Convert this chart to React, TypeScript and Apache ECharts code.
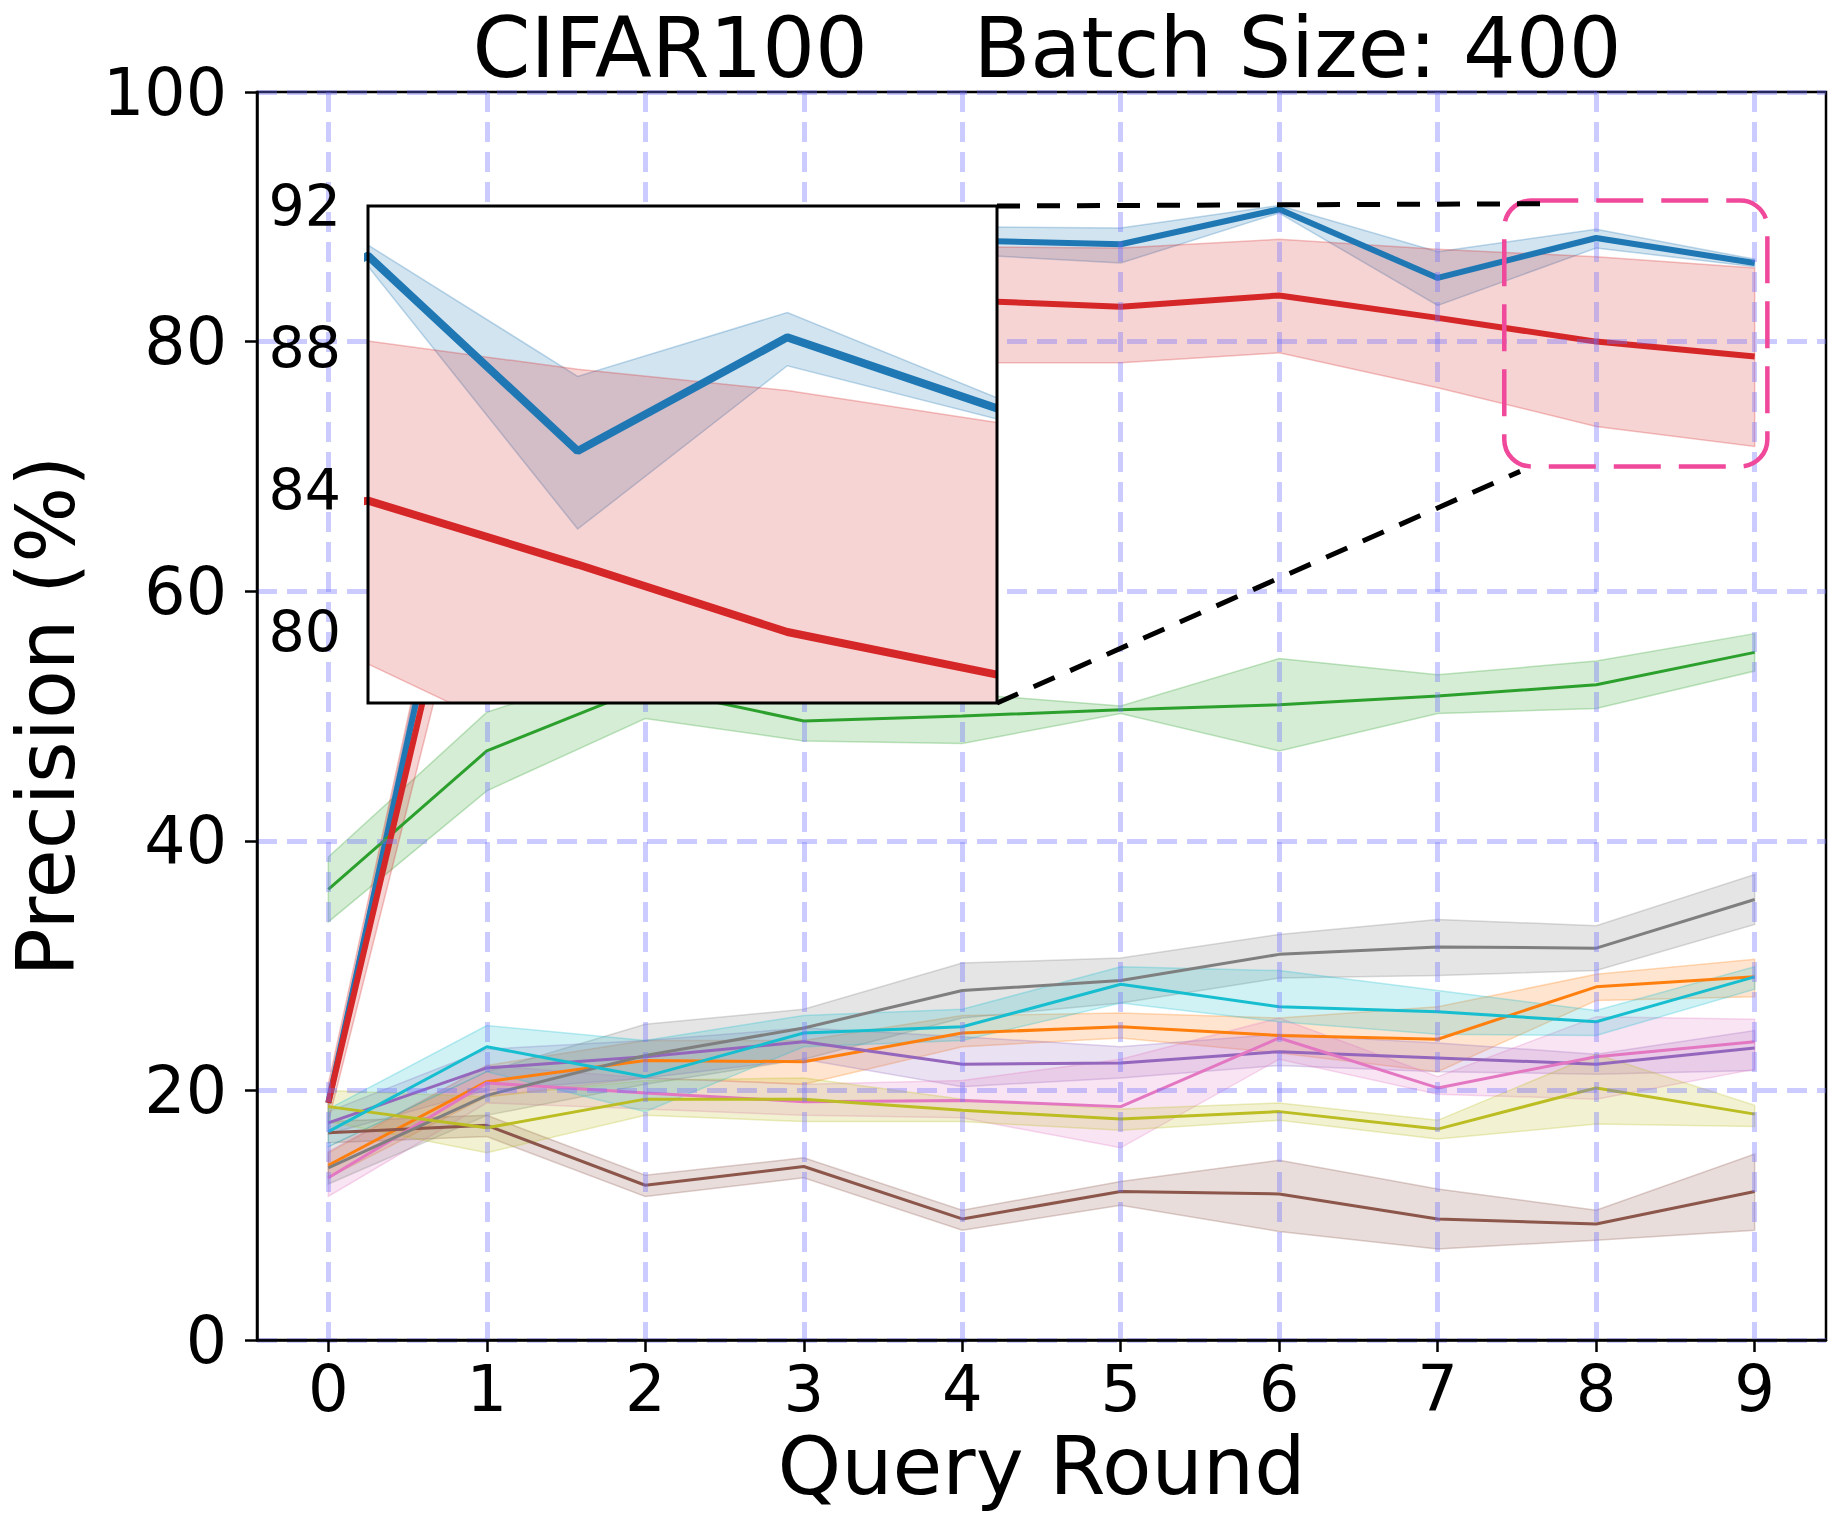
import React, { useEffect, useRef } from "react";
import * as echarts from "echarts";

// ---------- data ----------
const ROUNDS = [0, 1, 2, 3, 4, 5, 6, 7, 8, 9];
const X_TICKS = [0, 1, 2, 3, 4, 5, 6, 7, 8, 9];
const INSET_Y_TICKS = [80, 84, 88, 92];
const TITLE = "CIFAR100    Batch Size: 400";

const blueMean = [19.0, 77.0, 85.5, 87.5, 88.1, 87.8, 90.6, 85.1, 88.3, 86.3];
const blueLow = [18.5, 75.0, 84.0, 86.2, 87.0, 86.3, 90.3, 82.9, 87.5, 86.0];
const blueHigh = [19.5, 79.0, 87.0, 88.8, 89.2, 89.1, 90.9, 87.2, 89.0, 86.6];

const orangeMean = [14.0, 20.7, 22.4, 22.3, 24.6, 25.1, 24.4, 24.1, 28.3, 29.1];
const orangeLow = [13.0, 19.5, 21.0, 20.5, 23.5, 24.2, 23.0, 21.5, 27.2, 27.5];
const orangeHigh = [15.0, 22.0, 24.0, 24.0, 26.0, 26.2, 25.8, 26.7, 29.3, 30.5];

const greenMean = [36.1, 47.2, 52.3, 49.6, 50.0, 50.5, 50.9, 51.6, 52.5, 55.1];
const greenLow = [33.5, 44.0, 49.8, 48.0, 47.8, 50.2, 47.2, 50.2, 50.6, 53.6];
const greenHigh = [38.7, 50.3, 54.5, 51.5, 51.8, 50.8, 54.6, 53.3, 54.4, 56.6];

const redMean = [19.0, 73.0, 80.5, 82.5, 83.3, 82.8, 83.7, 81.9, 80.0, 78.8];
const redLow = [17.5, 68.0, 75.0, 78.0, 78.3, 78.3, 79.1, 76.3, 73.2, 71.6];
const redHigh = [20.5, 79.0, 85.0, 87.0, 87.6, 87.5, 88.2, 87.4, 86.8, 85.9];

const purpleMean = [17.4, 21.8, 22.7, 23.9, 22.1, 22.2, 23.1, 22.6, 22.1, 23.4];
const purpleLow = [16.5, 20.0, 21.0, 22.5, 20.3, 21.0, 22.0, 21.5, 21.3, 21.6];
const purpleHigh = [18.3, 23.3, 24.0, 25.0, 24.3, 23.5, 24.5, 23.8, 22.9, 24.8];

const brownMean = [16.6, 17.2, 12.4, 13.9, 9.7, 11.9, 11.7, 9.7, 9.3, 11.9];
const brownLow = [15.8, 16.3, 11.5, 13.0, 8.8, 10.8, 8.7, 7.3, 8.0, 8.8];
const brownHigh = [17.5, 18.0, 13.2, 14.6, 10.4, 12.7, 14.4, 12.1, 10.4, 14.9];

const pinkMean = [13.0, 20.6, 19.8, 19.1, 19.2, 18.7, 24.2, 20.2, 22.7, 23.9];
const pinkLow = [11.5, 19.0, 18.5, 18.0, 17.8, 15.4, 22.5, 19.7, 19.3, 21.7];
const pinkHigh = [15.1, 22.0, 21.0, 20.5, 20.8, 22.5, 25.8, 21.1, 25.9, 25.7];

const grayMean = [13.8, 19.6, 22.8, 25.0, 28.0, 28.8, 30.9, 31.5, 31.4, 35.3];
const grayLow = [12.5, 18.0, 20.5, 22.5, 25.8, 27.0, 29.0, 29.2, 29.6, 33.3];
const grayHigh = [15.5, 21.5, 25.3, 26.5, 30.2, 30.6, 32.5, 33.7, 33.2, 37.3];

const oliveMean = [18.7, 17.0, 19.3, 19.3, 18.4, 17.7, 18.3, 16.9, 20.2, 18.1];
const oliveLow = [17.5, 15.0, 18.0, 17.5, 17.5, 16.8, 17.6, 16.1, 17.3, 17.1];
const oliveHigh = [20.0, 19.5, 20.8, 21.0, 19.3, 18.5, 19.0, 17.6, 22.9, 18.8];

const cyanMean = [16.7, 23.5, 21.1, 24.6, 25.1, 28.5, 26.7, 26.3, 25.5, 29.1];
const cyanLow = [15.5, 21.5, 18.3, 23.5, 24.0, 27.0, 25.5, 24.5, 24.4, 28.1];
const cyanHigh = [18.5, 25.2, 24.0, 26.0, 26.5, 29.9, 29.6, 28.0, 26.4, 29.9];

// ---------- styling ----------
const FONT = "DejaVu Sans";
const GRID_COLOR = "rgba(110,110,255,0.36)";
const PINK = "#f0489a";

type Curve = { name: string; color: string; mean: number[]; low: number[]; high: number[]; width: number };

const CURVES: Curve[] = [
  { name: "blue", color: "#1f77b4", mean: blueMean, low: blueLow, high: blueHigh, width: 6 },
  { name: "orange", color: "#ff7f0e", mean: orangeMean, low: orangeLow, high: orangeHigh, width: 3 },
  { name: "green", color: "#2ca02c", mean: greenMean, low: greenLow, high: greenHigh, width: 3 },
  { name: "red", color: "#d62728", mean: redMean, low: redLow, high: redHigh, width: 6 },
  { name: "purple", color: "#9467bd", mean: purpleMean, low: purpleLow, high: purpleHigh, width: 3 },
  { name: "brown", color: "#8c564b", mean: brownMean, low: brownLow, high: brownHigh, width: 3 },
  { name: "pink", color: "#e377c2", mean: pinkMean, low: pinkLow, high: pinkHigh, width: 3 },
  { name: "gray", color: "#7f7f7f", mean: grayMean, low: grayLow, high: grayHigh, width: 3 },
  { name: "olive", color: "#bcbd22", mean: oliveMean, low: oliveLow, high: oliveHigh, width: 3 },
  { name: "cyan", color: "#17becf", mean: cyanMean, low: cyanLow, high: cyanHigh, width: 3 },
];

function rgba(hex: string, a: number) {
  const n = parseInt(hex.slice(1), 16);
  return `rgba(${(n >> 16) & 255},${(n >> 8) & 255},${n & 255},${a})`;
}

// shaded band between low and high, drawn through the axis scales (api.coord)
function bandSeries(c: Curve, axis: number, z: number) {
  return {
    type: "custom",
    name: `${c.name}-band-${axis}`,
    xAxisIndex: axis,
    yAxisIndex: axis,
    z,
    silent: true,
    clip: true,
    data: [[ROUNDS[0], c.low[0]]],
    renderItem: (_params: any, api: any) => {
      const upper = ROUNDS.map((x, i) => api.coord([x, c.high[i]]));
      const lower = ROUNDS.map((x, i) => api.coord([x, c.low[i]])).reverse();
      return {
        type: "polygon",
        shape: { points: upper.concat(lower) },
        style: { fill: rgba(c.color, 0.2), stroke: rgba(c.color, 0.28), lineWidth: 1.5 },
      };
    },
  };
}

function lineSeries(c: Curve, axis: number, width: number, z: number) {
  return {
    type: "line",
    name: `${c.name}-${axis}`,
    xAxisIndex: axis,
    yAxisIndex: axis,
    data: ROUNDS.map((x, i) => [x, c.mean[i]]),
    symbol: "none",
    lineStyle: { color: c.color, width },
    z,
    silent: true,
  };
}

export default function App() {
  const ref = useRef<HTMLDivElement>(null);

  useEffect(() => {
    if (!ref.current) return;
    const chart = echarts.init(ref.current, null, { renderer: "svg" });

    const series: any[] = [];
    CURVES.forEach((c) => series.push(bandSeries(c, 0, 2)));
    CURVES.forEach((c) => series.push(lineSeries(c, 0, c.width, 3)));
    const insetCurves = CURVES.filter((c) => c.name === "blue" || c.name === "red");
    insetCurves.forEach((c) => series.push(bandSeries(c, 1, 12)));
    insetCurves.forEach((c) => series.push(lineSeries(c, 1, 8, 13)));

    const labelStyle = { color: "#000", fontFamily: FONT };
    const gridLine = { show: true, lineStyle: { color: GRID_COLOR, width: 5, type: [20, 10] } };

    const option: any = {
      animation: false,
      backgroundColor: "#fff",
      title: {
        text: TITLE,
        left: 1042,
        top: 2,
        textAlign: "center",
        textStyle: { fontSize: 83, fontWeight: "normal", color: "#000", fontFamily: FONT },
      },
      grid: [
        {
          left: 257,
          top: 92,
          width: 1569,
          height: 1248,
          show: true,
          borderColor: "#000",
          borderWidth: 2.5,
          backgroundColor: "transparent",
          outerBoundsMode: "none",
        },
        { left: 368, top: 206, width: 629, height: 497, show: false, outerBoundsMode: "none" },
      ],
      xAxis: [
        {
          type: "value",
          gridIndex: 0,
          min: -0.45,
          max: 9.45,
          z: 5,
          axisLine: { show: true, onZero: false, lineStyle: { color: "#000", width: 2.5 } },
          axisTick: { show: true, customValues: X_TICKS, length: 12, lineStyle: { color: "#000", width: 2.5 } },
          axisLabel: { customValues: X_TICKS, fontSize: 64, margin: 17, ...labelStyle },
          splitLine: gridLine,
          name: "Query Round",
          nameLocation: "middle",
          nameGap: 84,
          nameTextStyle: { fontSize: 81, ...labelStyle },
        },
        {
          type: "value",
          gridIndex: 1,
          min: 6,
          max: 9,
          show: false,
        },
      ],
      yAxis: [
        {
          type: "value",
          gridIndex: 0,
          min: 0,
          max: 100,
          interval: 20,
          z: 5,
          axisLine: { show: true, onZero: false, lineStyle: { color: "#000", width: 2.5 } },
          axisTick: { show: true, length: 12, lineStyle: { color: "#000", width: 2.5 } },
          axisLabel: { fontSize: 65, margin: 30, ...labelStyle },
          splitLine: gridLine,
          name: "Precision (%)",
          nameLocation: "middle",
          nameRotate: 90,
          nameGap: 171,
          nameTextStyle: { fontSize: 80, ...labelStyle },
        },
        {
          type: "value",
          gridIndex: 1,
          min: 78,
          max: 92,
          z: 20,
          axisLine: { show: false },
          axisTick: { show: false },
          splitLine: { show: false },
          axisLabel: { customValues: INSET_Y_TICKS, fontSize: 57, margin: 27, showMaxLabel: true, showMinLabel: true, ...labelStyle },
        },
      ],
      series,
    };

    chart.setOption(option);

    const p = (xy: number[]) => chart.convertToPixel({ gridIndex: 0 } as any, xy) as number[];
    const q = (xy: number[]) => chart.convertToPixel({ gridIndex: 1 } as any, xy) as number[];

    const iTL = q([6, 92]);
    const iBR = q([9, 78]);
    const iTR = q([9, 92]);
    const bTL = p([7.42, 91.3]);
    const bBR = p([9.08, 70.0]);
    const l1 = p([7.69, 91.05]);
    const l2 = p([7.52, 69.6]);

    chart.setOption({
      graphic: [
        {
          type: "rect",
          z: 10,
          silent: true,
          shape: { x: iTL[0], y: iTL[1], width: iBR[0] - iTL[0], height: iBR[1] - iTL[1] },
          style: { fill: "#fff", stroke: "none" },
        },
        {
          type: "rect",
          z: 25,
          silent: true,
          shape: { x: iTL[0], y: iTL[1], width: iBR[0] - iTL[0], height: iBR[1] - iTL[1] },
          style: { fill: "none", stroke: "#000", lineWidth: 3 },
        },
        {
          type: "rect",
          z: 30,
          silent: true,
          shape: { x: bTL[0], y: bTL[1], width: bBR[0] - bTL[0], height: bBR[1] - bTL[1], r: 27 },
          style: { fill: "none", stroke: PINK, lineWidth: 4.5, lineDash: [47, 18] },
        },
        {
          type: "line",
          z: 30,
          silent: true,
          shape: { x1: iTR[0], y1: iTR[1], x2: l1[0], y2: l1[1] },
          style: { stroke: "#000", lineWidth: 5, lineDash: [23, 17] },
        },
        {
          type: "line",
          z: 30,
          silent: true,
          shape: { x1: iBR[0], y1: iBR[1], x2: l2[0], y2: l2[1] },
          style: { stroke: "#000", lineWidth: 5, lineDash: [23, 17] },
        },
      ],
    });

    return () => chart.dispose();
  }, []);

  return (
    <div
      ref={ref}
      style={{ position: "absolute", left: 0, top: 0, width: 1839, height: 1517 }}
    />
  );
}
